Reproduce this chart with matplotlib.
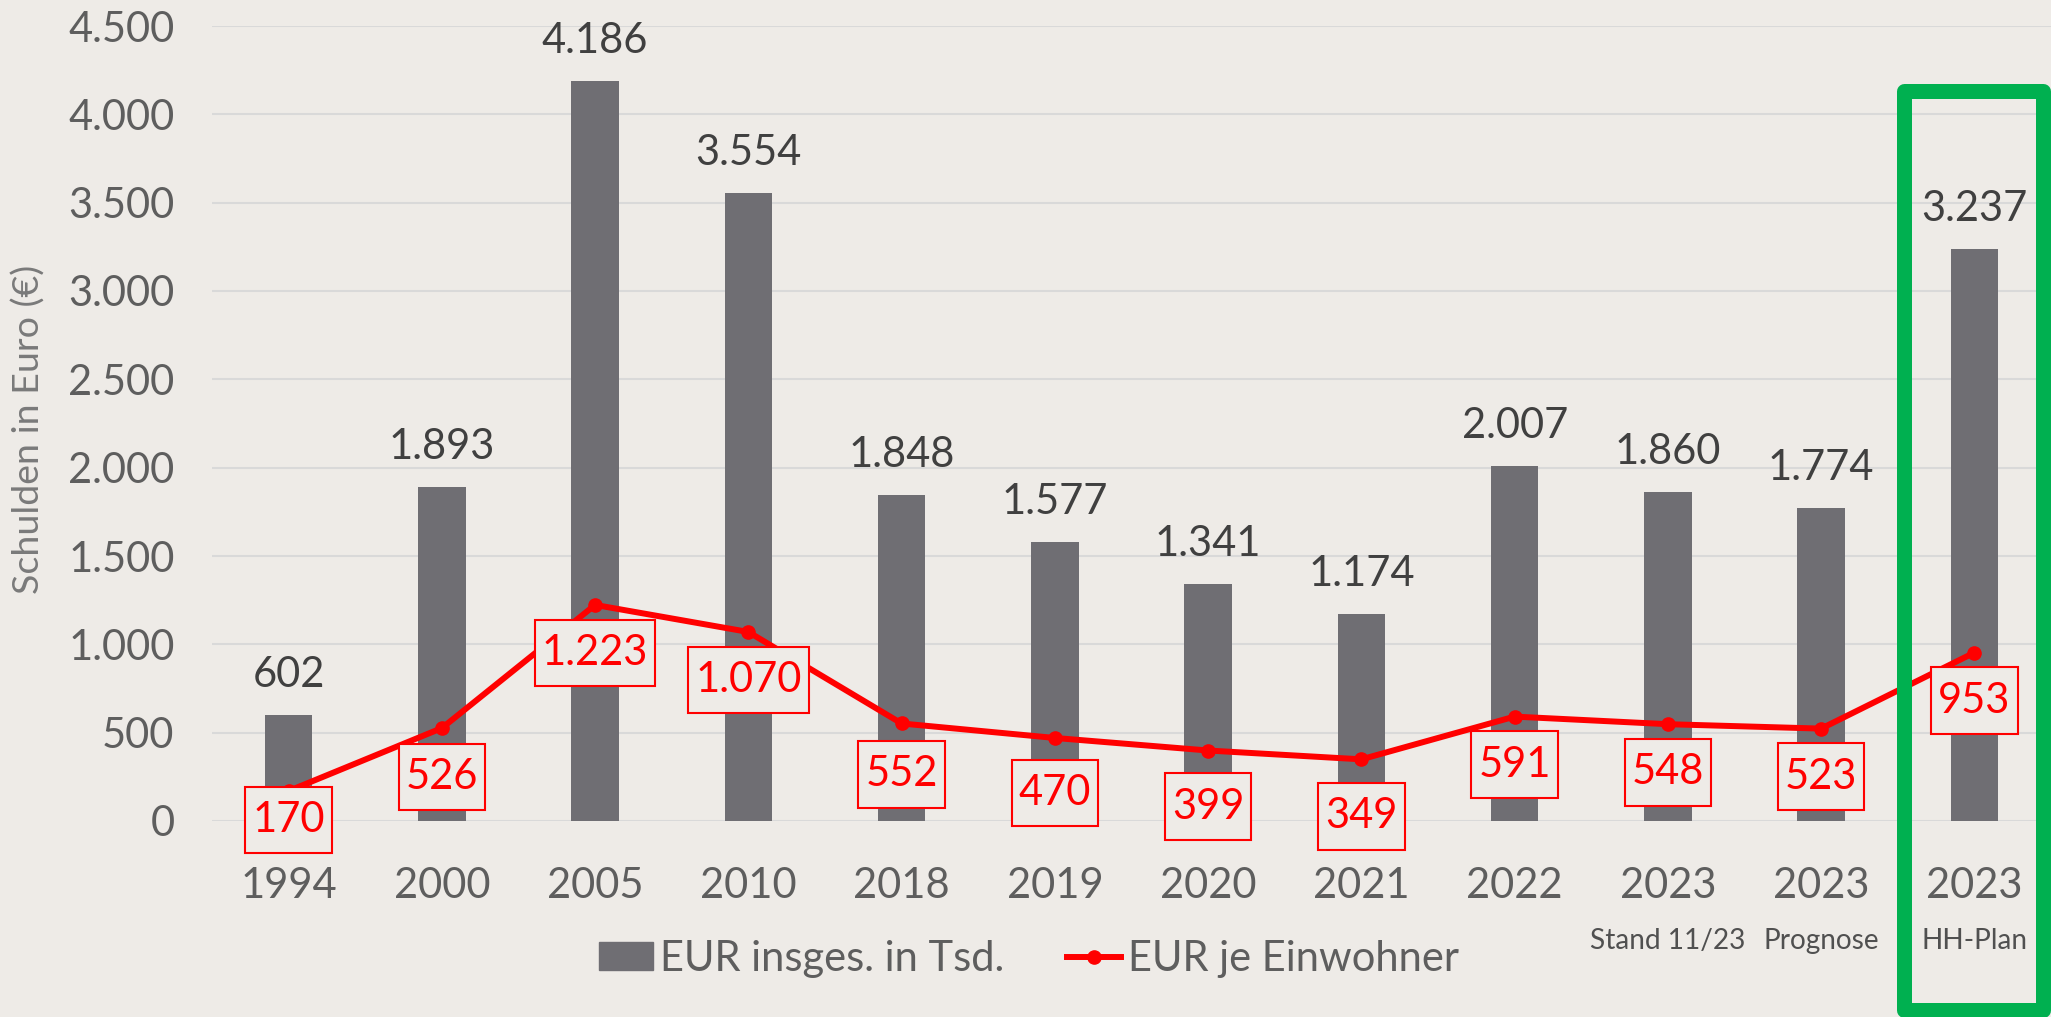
#!/usr/bin/env python3
"""Schuldenentwicklung: EUR insgesamt (Tsd.) als Balken, EUR je Einwohner als Linie."""

import numpy as np
import matplotlib
matplotlib.use("Agg")
import matplotlib.pyplot as plt
import matplotlib.transforms as mtransforms
from matplotlib.patches import Rectangle, Patch
from matplotlib.lines import Line2D
from matplotlib.path import Path

plt.rcParams["font.family"] = ["Lato", "DejaVu Sans"]

BG = "#EEEBE7"
BAR_COLOR = "#6F6E73"
RED = "#FF0000"
GREEN = "#00B050"
GRID = "#D9D9D9"
TICK_GRAY = "#5E5E5E"
DARK = "#404040"

# data
years = ["1994", "2000", "2005", "2010", "2018", "2019", "2020", "2021",
         "2022", "2023", "2023", "2023"]
notes = ["", "", "", "", "", "", "", "", "", "Stand 11/23", "Prognose", "HH-Plan"]
total_tsd = [602, 1893, 4186, 3554, 1848, 1577, 1341, 1174, 2007, 1860, 1774, 3237]
per_capita = [170, 526, 1223, 1070, 552, 470, 399, 349, 591, 548, 523, 953]
yticks = [0, 500, 1000, 1500, 2000, 2500, 3000, 3500, 4000, 4500]

# label offsets below the line points (pixels), roughly as Excel placed them
red_offsets = [-29, -49, -48, -48, -51, -55, -56, -57, -48, -48, -48, -48]


def de(v):
    return f"{v:,}".replace(",", ".")


def label_box(x0, y0, width, height, mutation_size):
    # Excel-like box: little side padding, fixed taller height
    padx = 0.17 * mutation_size
    half_h = 0.8 * mutation_size
    cy = y0 + height / 2
    l, r = x0 - padx, x0 + width + padx
    b, t = cy - half_h, cy + half_h
    return Path([(l, b), (r, b), (r, t), (l, t), (l, b)],
                [Path.MOVETO, Path.LINETO, Path.LINETO, Path.LINETO, Path.CLOSEPOLY])


W, H = 2051, 1017
fig = plt.figure(figsize=(W / 100, H / 100), dpi=100, facecolor=BG)
ax = fig.add_axes([212 / W, 1 - 821 / H, 1 - 212 / W, (821 - 26) / H])
ax.set_facecolor(BG)
renderer = fig.canvas.get_renderer()


def fit_size(text, size, target_px, vertical=False):
    bb = text.get_window_extent(renderer)
    cur = bb.height if vertical else bb.width
    return size * target_px / cur


x = np.arange(len(years))
ax.bar(x, total_tsd, width=0.31, color=BAR_COLOR, zorder=2)
ax.plot(x, per_capita, color=RED, lw=4.3, marker="o", ms=9.5, zorder=3)

ax.set_xlim(-0.5, len(years) - 0.5)
ax.set_ylim(0, 4500)
ax.set_yticks(yticks)
ax.set_yticklabels([de(v) for v in yticks])
ax.set_xticks(x)
ax.set_xticklabels(years)
ax.yaxis.grid(True, color=GRID, lw=1.5)
ax.set_axisbelow(True)
for s in ax.spines.values():
    s.set_visible(False)
ax.tick_params(length=0, labelsize=30, labelcolor=TICK_GRAY)
ax.tick_params(axis="y", pad=27)
ax.tick_params(axis="x", pad=33)

px = 0.72  # pixels -> points at 100 dpi

# bar value labels
for i, v in enumerate(total_tsd):
    ax.annotate(de(v), (i, v), xytext=(0, 40 * px), textcoords="offset points",
                ha="center", va="center", fontsize=30, color=DARK, zorder=4)

# per-capita labels in red boxes
for i, v in enumerate(per_capita):
    ax.annotate(de(v), (i, v), xytext=(0, red_offsets[i] * px),
                textcoords="offset points", ha="center", va="center",
                fontsize=30, color=RED, zorder=6,
                bbox=dict(boxstyle=label_box, fc=BG, ec=RED, lw=1.5))

# sub labels under the 2023 years, sized so "Stand 11/23" is ~155 px wide
blend = mtransforms.blended_transform_factory(ax.transData, fig.transFigure)
note_texts = []
for i, note in enumerate(notes):
    if note:
        note_texts.append(ax.text(i, 1 - 941 / H, note, transform=blend,
                                  ha="center", va="center", fontsize=20,
                                  color="#505050", clip_on=False))
note_size = fit_size(note_texts[0], 20, 155)
for t in note_texts:
    t.set_fontsize(note_size)

ylab = fig.text(29 / W, 1 - 429 / H, "Schulden in Euro (€)", rotation=90,
                ha="center", va="center", fontsize=30, color="#7A7A7A")
ylab.set_fontsize(fit_size(ylab, 30, 328, vertical=True))

# green highlight around the plan value
fig.add_artist(Rectangle((10.54, 0.007), 0.91, 0.9035, transform=blend,
                         fill=False, ec=GREEN, lw=10.8, joinstyle="round",
                         zorder=10))

handles = [Patch(color=BAR_COLOR),
           Line2D([], [], color=RED, lw=4.3, marker="o", ms=9.5)]
fig.legend(handles, ["EUR insges. in Tsd.", "EUR je Einwohner"],
           loc="center", bbox_to_anchor=(1029 / W, 1 - 959 / H), ncol=2,
           frameon=False, prop=dict(size=30),
           labelcolor=TICK_GRAY, handlelength=1.3, handleheight=0.65,
           handletextpad=0.17, columnspacing=1.5)

fig.savefig("out.png", dpi=100, facecolor=BG)
